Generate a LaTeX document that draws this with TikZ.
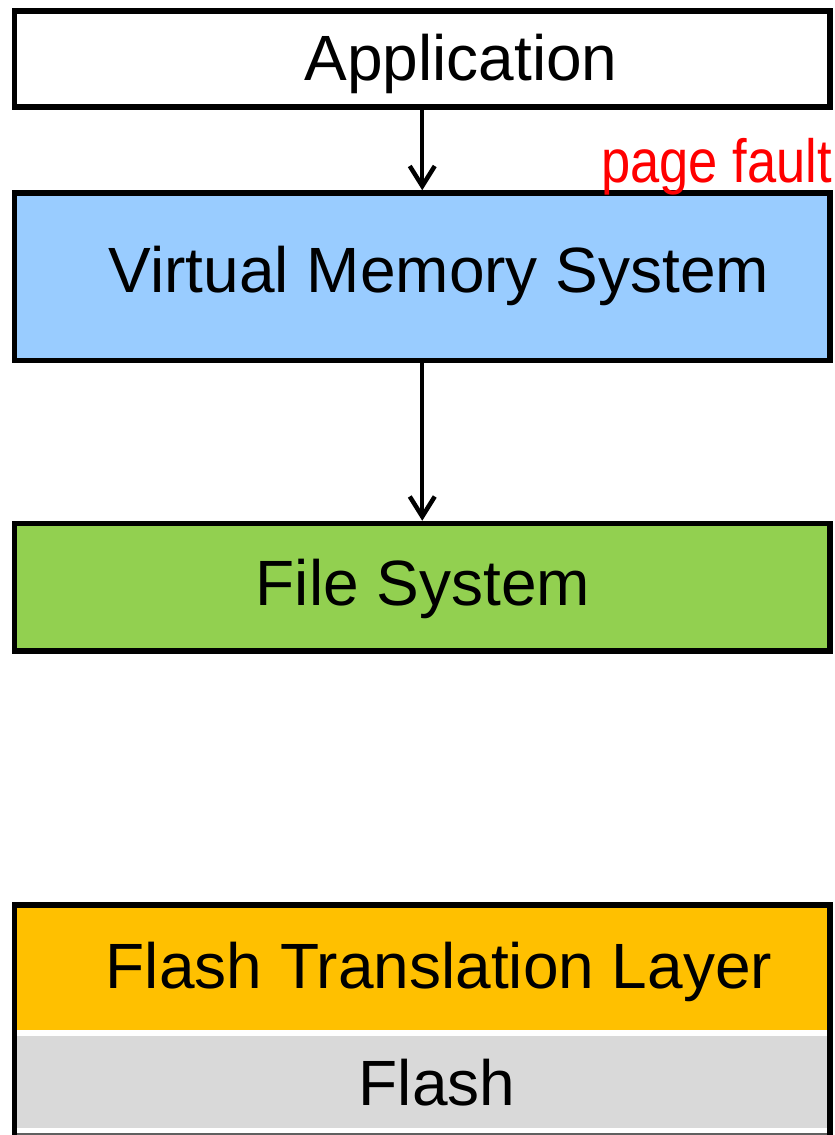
\documentclass[tikz,border=0pt]{standalone}
\usepackage{fontspec}
\setmainfont{Liberation Sans}
\usetikzlibrary{arrows.meta}
\definecolor{vmblue}{HTML}{99CCFF}
\definecolor{fsgreen}{HTML}{92D050}
\definecolor{ftlorange}{HTML}{FFC000}
\definecolor{flashgray}{HTML}{D9D9D9}
\definecolor{rulegray}{HTML}{606060}
\tikzset{
  layer/.style={draw=black, line width=5.5pt, rectangle, inner sep=0pt,
    minimum width=815.5pt},
  cell/.style={rectangle, inner sep=0pt, outer sep=0pt, minimum width=810pt},
  lbl/.style={anchor=base, inner sep=0pt, font=\fontsize{64}{70}\selectfont},
  flow/.style={line width=4pt, -{Straight Barb[length=20pt,width=25pt,line width=4.5pt]}},
}
\begin{document}
\begin{tikzpicture}[x=1pt, y=-1pt]
\useasboundingbox (0,0) rectangle (835,1135);

% software stack
\node[layer, fill=white, minimum height=96pt] (app) at (422.25,59) {};
\node[layer, fill=vmblue, minimum height=167.5pt] (vms) at (422.25,276.75) {};
\node[layer, fill=fsgreen, minimum height=127.5pt] (fs) at (422.25,587.25) {};

\node[lbl] (appt) at (461,80) {Application};
\node[lbl] (vmst) at (439,292) {Virtual Memory System};
\node[lbl] (fst) at (423,605) {File System};

\node[anchor=base east, inner sep=0pt, text=red, xscale=0.86,
      font=\fontsize{61}{68}\selectfont] (pf) at (832,182) {page fault};

\draw[flow] (app.south) -- (vms.north);
\draw[flow] (vms.south) -- (fs.north);

% storage device: FTL over flash, in one framed table
\node[cell, fill=ftlorange, minimum height=122.25pt] (ftl) at (422.25,968.875) {};
\node[cell, fill=flashgray, minimum height=92pt] (flash) at (422.25,1082) {};
\node[cell, fill=rulegray, minimum height=4pt] (rule) at (422.25,1135) {};
\node[draw=black, line width=5.5pt, rectangle, inner sep=0pt,
      minimum width=815.5pt, minimum height=250pt] (dev) at (422.25,1030) {};

\node[lbl] (ftlt) at (439,988) {Flash Translation Layer};
\node[lbl] (flasht) at (437,1105) {Flash};
\end{tikzpicture}
\end{document}
